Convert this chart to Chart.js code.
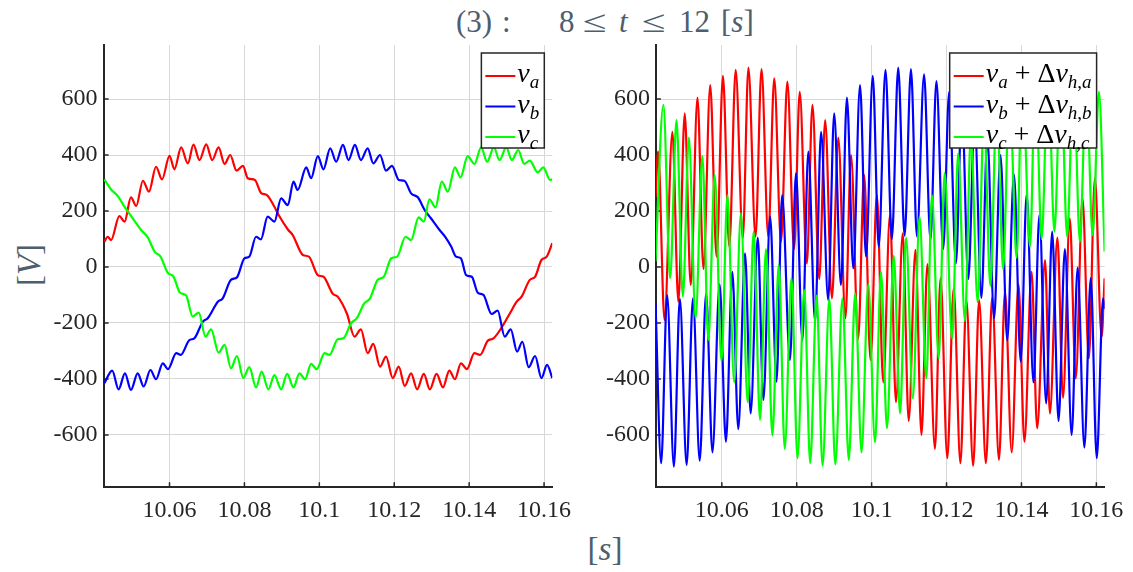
<!DOCTYPE html>
<html lang="en">
<head>
<meta charset="UTF-8">
<title>Phase voltages, 8 ≤ t ≤ 12 s</title>
<script src="https://cdn.jsdelivr.net/npm/chart.js@4.4.0/dist/chart.umd.min.js"></script>
<style>
  body { margin: 0; width: 1133px; height: 572px; background: #fff; position: relative; overflow: hidden; }
  canvas { position: absolute; left: 0; top: 0; }
  .lbl { position: absolute; color: #4d5e6e; font-family: "Liberation Serif", "DejaVu Serif", serif; font-size: 31px; line-height: 1; white-space: nowrap; }
  .rel { transform: scaleX(1.4); transform-origin: left center; }
</style>
</head>
<body>
<!-- title pieces placed like the LaTeX title -->
<div class="lbl" style="left:456px;top:6px">(3)</div>
<div class="lbl" style="left:502px;top:6px">:</div>
<div class="lbl" style="left:559px;top:6px">8</div>
<div class="lbl rel" style="left:583px;top:6px">≤</div>
<div class="lbl" style="left:619px;top:6px"><i>t</i></div>
<div class="lbl rel" style="left:642px;top:6px">≤</div>
<div class="lbl" style="left:679px;top:6px">12</div>
<div class="lbl" style="left:721px;top:6px">[<i>s</i>]</div>
<div class="lbl" id="ylab" style="left:29px;top:265px;font-size:33px;transform:translate(-50%,-50%) rotate(-90deg)">[<i>V</i>]</div>
<div class="lbl" id="xlab" style="left:605px;top:549px;font-size:33px;transform:translate(-50%,-50%)">[<i>s</i>]</div>

<canvas id="left" width="1133" height="572"></canvas>
<canvas id="right" width="1133" height="572"></canvas>

<script>
const FONT = '"Liberation Serif", "DejaVu Serif", serif';

// axis ticks
const xTicks = [10.06, 10.08, 10.1, 10.12, 10.14, 10.16];
const xTickLabels = ['10.06', '10.08', '10.1', '10.12', '10.14', '10.16'];
const yTicks = [-600, -400, -200, 0, 200, 400, 600];
const yTickLabels = ['-600', '-400', '-200', '0', '200', '400', '600'];

// left plot: v_a, v_b, v_c  [t (s), V]
const va = [[10.0426,90],[10.0435,108],[10.0444,96],[10.0466,182],[10.0480,162],[10.0497,249],[10.0511,218],[10.0529,308],[10.0545,269],[10.0564,358],[10.0580,313],[10.0600,397],[10.0613,349],[10.0631,427],[10.0649,370],[10.0664,437],[10.0680,382],[10.0698,438],[10.0714,382],[10.0731,427],[10.0747,368],[10.0762,400],[10.0779,344],[10.0796,361],[10.0809,317],[10.0828,311],[10.0844,265],[10.0860,257],[10.0880,215],[10.0893,182],[10.0916,134],[10.0929,114],[10.0956,43],[10.0972,37],[10.0996,-29],[10.1011,-35],[10.1036,-96],[10.1049,-106],[10.1074,-168],[10.1094,-249],[10.1111,-223],[10.1129,-308],[10.1144,-275],[10.1162,-356],[10.1178,-320],[10.1196,-397],[10.1212,-356],[10.1228,-425],[10.1245,-380],[10.1261,-437],[10.1279,-382],[10.1295,-437],[10.1313,-382],[10.1330,-430],[10.1347,-370],[10.1362,-401],[10.1378,-344],[10.1394,-365],[10.1414,-308],[10.1429,-314],[10.1450,-263],[10.1465,-255],[10.1491,-207],[10.1509,-165],[10.1527,-124],[10.1540,-106],[10.1562,-46],[10.1576,-35],[10.1593,25],[10.1607,37],[10.1622,85]];
const vb = [[10.0426,-415],[10.0447,-370],[10.0464,-437],[10.0481,-380],[10.0497,-439],[10.0515,-380],[10.0531,-427],[10.0549,-368],[10.0564,-401],[10.0582,-344],[10.0596,-365],[10.0618,-308],[10.0630,-314],[10.0653,-261],[10.0666,-255],[10.0689,-195],[10.0702,-183],[10.0729,-124],[10.0742,-112],[10.0764,-46],[10.0780,-37],[10.0800,31],[10.0813,37],[10.0831,108],[10.0844,99],[10.0862,180],[10.0880,162],[10.0898,245],[10.0916,221],[10.0931,305],[10.0942,275],[10.0965,356],[10.0978,317],[10.0996,396],[10.1011,349],[10.1029,424],[10.1045,376],[10.1063,436],[10.1078,382],[10.1095,436],[10.1111,382],[10.1129,424],[10.1144,370],[10.1162,400],[10.1178,344],[10.1194,361],[10.1212,311],[10.1227,308],[10.1245,263],[10.1263,249],[10.1281,204],[10.1298,174],[10.1321,132],[10.1337,106],[10.1352,73],[10.1365,37],[10.1378,31],[10.1392,-29],[10.1407,-35],[10.1423,-92],[10.1438,-100],[10.1460,-168],[10.1476,-156],[10.1495,-249],[10.1511,-223],[10.1528,-302],[10.1542,-267],[10.1559,-358],[10.1576,-318],[10.1593,-397],[10.1608,-350],[10.1622,-397]];
const vc = [[10.0426,313],[10.0444,277],[10.0462,253],[10.0480,215],[10.0500,177],[10.0524,132],[10.0542,106],[10.0560,55],[10.0576,37],[10.0595,-20],[10.0611,-35],[10.0628,-92],[10.0644,-101],[10.0662,-177],[10.0678,-163],[10.0696,-249],[10.0711,-223],[10.0731,-306],[10.0747,-278],[10.0764,-362],[10.0780,-318],[10.0797,-397],[10.0813,-358],[10.0831,-430],[10.0846,-374],[10.0864,-437],[10.0880,-386],[10.0898,-437],[10.0914,-382],[10.0931,-430],[10.0947,-380],[10.0962,-401],[10.0978,-346],[10.0993,-365],[10.1014,-308],[10.1027,-314],[10.1049,-258],[10.1064,-255],[10.1085,-201],[10.1100,-183],[10.1120,-130],[10.1135,-113],[10.1156,-46],[10.1172,-35],[10.1192,31],[10.1208,37],[10.1230,108],[10.1245,96],[10.1265,177],[10.1279,162],[10.1294,242],[10.1310,213],[10.1327,305],[10.1343,269],[10.1362,356],[10.1377,320],[10.1396,396],[10.1414,368],[10.1432,427],[10.1448,376],[10.1466,427],[10.1481,382],[10.1499,427],[10.1514,382],[10.1531,418],[10.1547,368],[10.1562,380],[10.1583,338],[10.1598,356],[10.1616,311],[10.1622,313]];

// right plot: v + dv_h  [t (s), V]
const vha = [[10.0423,250],[10.0430,412],[10.0447,-189],[10.0468,483],[10.0484,-124],[10.0501,549],[10.0517,-64],[10.0535,605],[10.0551,-7],[10.0569,650],[10.0586,37],[10.0603,683],[10.0620,73],[10.0637,704],[10.0656,102],[10.0671,712],[10.0690,108],[10.0706,707],[10.0724,108],[10.0740,674],[10.0758,90],[10.0775,662],[10.0793,64],[10.0808,626],[10.0827,13],[10.0842,579],[10.0860,-43],[10.0876,525],[10.0894,-112],[10.0911,462],[10.0930,-183],[10.0945,400],[10.0964,-257],[10.0980,329],[10.0997,-332],[10.1014,257],[10.1031,-412],[10.1049,186],[10.1065,-483],[10.1083,120],[10.1099,-550],[10.1117,61],[10.1133,-600],[10.1149,10],[10.1169,-650],[10.1184,-40],[10.1202,-683],[10.1219,-76],[10.1237,-701],[10.1253,-118],[10.1271,-710],[10.1287,-118],[10.1305,-701],[10.1322,-108],[10.1340,-689],[10.1356,-88],[10.1374,-662],[10.1392,-62],[10.1408,-624],[10.1427,-17],[10.1442,-576],[10.1463,25],[10.1476,-523],[10.1496,105],[10.1511,-467],[10.1529,174],[10.1545,-398],[10.1563,245],[10.1580,-326],[10.1596,317],[10.1614,-249],[10.1622,-40]];
const vhb = [[10.0423,-130],[10.0438,-701],[10.0454,-100],[10.0472,-713],[10.0488,-114],[10.0506,-707],[10.0523,-112],[10.0541,-692],[10.0558,-94],[10.0575,-662],[10.0594,-62],[10.0611,-624],[10.0628,-17],[10.0644,-579],[10.0662,49],[10.0677,-523],[10.0696,105],[10.0711,-475],[10.0729,180],[10.0746,-410],[10.0761,257],[10.0782,-332],[10.0798,335],[10.0815,-261],[10.0831,412],[10.0849,-195],[10.0865,483],[10.0884,-118],[10.0900,549],[10.0918,-64],[10.0934,605],[10.0951,-5],[10.0969,650],[10.0985,37],[10.1003,683],[10.1019,73],[10.1037,704],[10.1054,100],[10.1071,712],[10.1088,112],[10.1105,707],[10.1121,108],[10.1140,688],[10.1157,96],[10.1173,664],[10.1191,64],[10.1207,626],[10.1225,13],[10.1241,579],[10.1258,-43],[10.1275,525],[10.1293,-110],[10.1309,462],[10.1327,-183],[10.1344,400],[10.1362,-261],[10.1380,331],[10.1398,-338],[10.1414,260],[10.1432,-412],[10.1448,186],[10.1466,-487],[10.1482,126],[10.1499,-550],[10.1516,64],[10.1534,-600],[10.1550,-2],[10.1568,-645],[10.1585,-40],[10.1601,-683],[10.1618,-112],[10.1622,-150]];
const vhc = [[10.0423,20],[10.0444,579],[10.0462,-40],[10.0479,525],[10.0496,-106],[10.0512,462],[10.0530,-183],[10.0548,396],[10.0564,-261],[10.0581,329],[10.0599,-336],[10.0615,257],[10.0633,-412],[10.0651,192],[10.0669,-483],[10.0685,126],[10.0702,-546],[10.0718,64],[10.0735,-602],[10.0752,7],[10.0768,-650],[10.0786,-40],[10.0802,-683],[10.0820,-82],[10.0836,-701],[10.0853,-102],[10.0869,-710],[10.0887,-114],[10.0903,-705],[10.0922,-112],[10.0939,-689],[10.0956,-94],[10.0973,-662],[10.0991,-62],[10.1009,-626],[10.1025,-17],[10.1041,-576],[10.1059,40],[10.1076,-523],[10.1092,105],[10.1110,-469],[10.1128,180],[10.1146,-398],[10.1161,257],[10.1179,-326],[10.1195,335],[10.1215,-255],[10.1231,406],[10.1249,-193],[10.1265,474],[10.1283,-126],[10.1300,537],[10.1317,-67],[10.1334,593],[10.1351,-7],[10.1368,640],[10.1387,33],[10.1402,676],[10.1423,73],[10.1437,700],[10.1454,100],[10.1471,705],[10.1488,126],[10.1505,700],[10.1522,108],[10.1539,690],[10.1556,90],[10.1573,662],[10.1590,114],[10.1607,626],[10.1622,55]];

// legend labels: [text, italic, subscript]
const labA = [['v',1,0],['a',1,1]];
const labB = [['v',1,0],['b',1,1]];
const labC = [['v',1,0],['c',1,1]];
const labHA = [['v',1,0],['a',1,1],[' + ',0,0],['Δ',0,0],['v',1,0],['h',1,1],[',',0,1],['a',1,1]];
const labHB = [['v',1,0],['b',1,1],[' + ',0,0],['Δ',0,0],['v',1,0],['h',1,1],[',',0,1],['b',1,1]];
const labHC = [['v',1,0],['c',1,1],[' + ',0,0],['Δ',0,0],['v',1,0],['h',1,1],[',',0,1],['c',1,1]];

const xMin = 10.0424, xMax = 10.1622;
const yMin = -787, yMax = 793;

function mathText(ctx, x, y, parts, draw) {
  for (const [s, it, sub] of parts) {
    ctx.font = (it ? 'italic ' : '') + (sub ? 19 : 28) + 'px ' + FONT;
    if (draw) ctx.fillText(s, x, y + (sub ? 6 : 0));
    x += ctx.measureText(s).width;
  }
  return x;
}

// MATLAB style ticks pointing into the axes
const ticksIn = {
  id: 'ticksIn',
  beforeDatasetsDraw(chart) {
    const {ctx, chartArea: a, scales: {x, y}} = chart;
    ctx.save();
    ctx.strokeStyle = '#262626';
    ctx.lineWidth = 1.5;
    ctx.beginPath();
    x.ticks.forEach(t => { const p = x.getPixelForValue(t.value); ctx.moveTo(p, a.bottom); ctx.lineTo(p, a.bottom - 5); });
    y.ticks.forEach(t => { const p = y.getPixelForValue(t.value); ctx.moveTo(a.left, p); ctx.lineTo(a.left + 5, p); });
    ctx.stroke();
    ctx.restore();
  }
};

// boxed legend in the top right corner, drawn over the lines
const boxLegend = {
  id: 'boxLegend',
  afterDatasetsDraw(chart) {
    const {ctx, chartArea: a} = chart;
    const sets = chart.data.datasets;
    ctx.save();
    ctx.textBaseline = 'alphabetic';
    let tw = 0;
    sets.forEach(d => { tw = Math.max(tw, mathText(ctx, 0, 0, d.mathLabel, false)); });
    const w = 36 + tw + 5, h = 95;
    const left = a.right - 8 - w, top = a.top + 8;
    ctx.fillStyle = '#fff';
    ctx.fillRect(left, top, w, h);
    ctx.strokeStyle = '#262626';
    ctx.lineWidth = 1.5;
    ctx.strokeRect(left, top, w, h);
    sets.forEach((d, i) => {
      const ry = top + 23 + i * 30.5;
      ctx.strokeStyle = d.borderColor;
      ctx.lineWidth = 2;
      ctx.beginPath();
      ctx.moveTo(left + 4, ry);
      ctx.lineTo(left + 34, ry);
      ctx.stroke();
      ctx.fillStyle = '#000';
      mathText(ctx, left + 36, ry + 6, d.mathLabel, true);
    });
    ctx.restore();
  }
};

function axis(ticks, labels, min, max, isX) {
  return {
    type: 'linear', min: min, max: max,
    afterBuildTicks: s => { s.ticks = ticks.map(v => ({value: v})); },
    afterFit: s => {
      if (isX) s.height = 50; else s.width = 60;
      s.paddingLeft = s.paddingRight = s.paddingTop = s.paddingBottom = 0;
    },
    grid: {color: '#d8d8d8', lineWidth: 1, drawTicks: false},
    border: {color: '#262626', width: 2},
    ticks: {
      color: '#262626', font: {family: FONT, size: 24},
      padding: isX ? 9 : 6, maxRotation: 0, autoSkip: false,
      callback: (v, i) => labels[i]
    }
  };
}

function line(pts, color, label, order) {
  return {
    data: pts.map(p => ({x: p[0], y: p[1]})),
    borderColor: color, borderWidth: 2.2, pointRadius: 0,
    cubicInterpolationMode: 'monotone', order: order, mathLabel: label
  };
}

function makeChart(id, sets, padLeft, padRight) {
  new Chart(document.getElementById(id), {
    type: 'line',
    data: {datasets: sets},
    options: {
      responsive: false, animation: false, events: [], parsing: false,
      layout: {padding: {left: padLeft, right: padRight, top: 45, bottom: 34.7}},
      plugins: {legend: {display: false}, tooltip: {enabled: false}},
      scales: {
        x: axis(xTicks, xTickLabels, xMin, xMax, true),
        y: axis(yTicks, yTickLabels, yMin, yMax, false)
      }
    },
    plugins: [ticksIn, boxLegend]
  });
}

makeChart('left', [
  line(va, '#ff0000', labA, 3),
  line(vb, '#0000ff', labB, 2),
  line(vc, '#00ff00', labC, 1)
], 43.6, 580.7);

makeChart('right', [
  line(vha, '#ff0000', labHA, 3),
  line(vhb, '#0000ff', labHB, 2),
  line(vhc, '#00ff00', labHC, 1)
], 595.9, 28.4);
</script>
</body>
</html>
